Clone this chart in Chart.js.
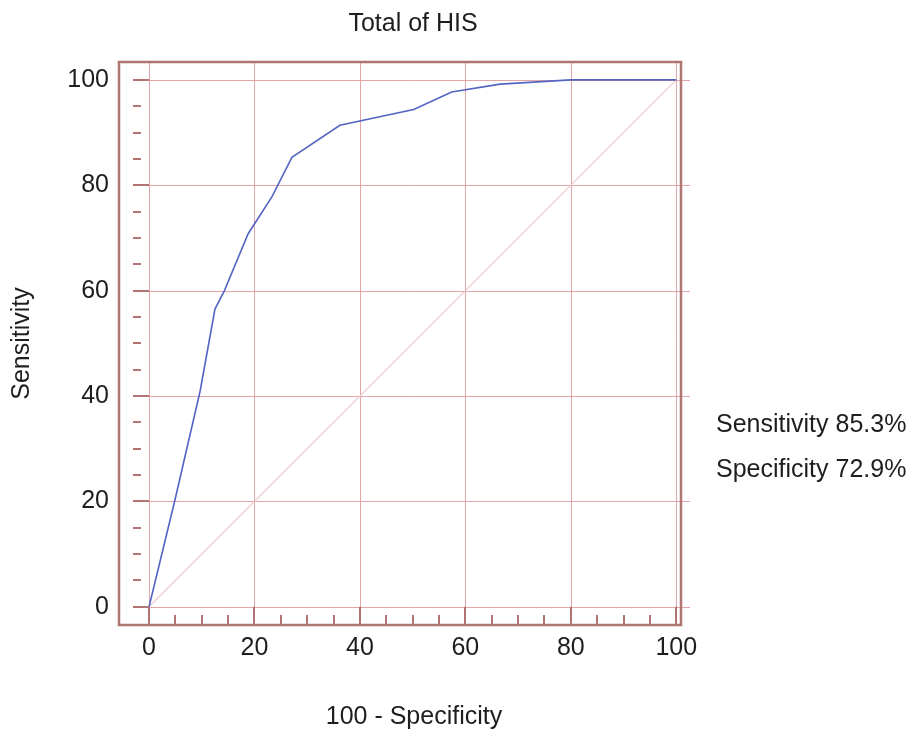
<!DOCTYPE html>
<html>
<head>
<meta charset="utf-8">
<title>Total of HIS</title>
<script src="https://cdn.jsdelivr.net/npm/chart.js@4/dist/chart.umd.min.js"></script>
<style>
  html, body { margin: 0; padding: 0; background: #fff; }
  #wrap { width: 919px; height: 731px; }
</style>
</head>
<body>
<div id="wrap"><canvas id="roc" width="919" height="731"></canvas></div>
<script>
// ROC curve (100 - specificity vs sensitivity)
var fpr = [0, 4.9, 9.7, 12.5, 14.3, 18.8, 23.3, 27.1, 36.2, 50.2, 57.4, 66.6, 80, 100];
var tpr = [0, 20.2, 41, 56.5, 60, 70.8, 77.8, 85.3, 91.4, 94.4, 97.7, 99.2, 100, 100];

var majorTicks = [0, 20, 40, 60, 80, 100];
var minorTicks = [5, 10, 15, 25, 30, 35, 45, 50, 55, 65, 70, 75, 85, 90, 95];
var chartTitle = 'Total of HIS';
var xTitle = '100 - Specificity';
var notes = ['Sensitivity 85.3%', 'Specificity 72.9%'];

var FONT = '"Liberation Sans", Arial, sans-serif';
var textColor = '#1e1e1e';
var frameColor = '#b07474';
var gridColor = '#e2a6a6';

var rocPoints = fpr.map(function(x, i) { return { x: x, y: tpr[i] }; });

// grid, tick marks and frame, drawn under the curves
var framePlugin = {
    id: 'frame',
    beforeDatasetsDraw: function(chart) {
        var ctx = chart.ctx, a = chart.chartArea;
        var xs = chart.scales.x, ys = chart.scales.y;
        ctx.save();
        ctx.lineWidth = 1;
        ctx.strokeStyle = gridColor;
        majorTicks.forEach(function(v) {
            var px = Math.round(xs.getPixelForValue(v)) + 0.5;
            ctx.beginPath(); ctx.moveTo(px, a.top); ctx.lineTo(px, a.bottom); ctx.stroke();
            var py = Math.round(ys.getPixelForValue(v)) + 0.5;
            ctx.beginPath(); ctx.moveTo(a.left + 14, py); ctx.lineTo(a.right + 9, py); ctx.stroke();
        });

        // tick marks
        ctx.strokeStyle = frameColor;
        ctx.lineWidth = 2;
        var x0 = xs.getPixelForValue(0), y0 = ys.getPixelForValue(0);
        majorTicks.forEach(function(v) {
            var py = Math.round(ys.getPixelForValue(v));
            ctx.beginPath(); ctx.moveTo(a.left + 14, py); ctx.lineTo(x0, py); ctx.stroke();
            var px = Math.round(xs.getPixelForValue(v));
            ctx.beginPath(); ctx.moveTo(px, a.bottom); ctx.lineTo(px, y0); ctx.stroke();
        });
        minorTicks.forEach(function(v) {
            var py = Math.round(ys.getPixelForValue(v));
            ctx.beginPath(); ctx.moveTo(a.left + 14, py); ctx.lineTo(a.left + 22, py); ctx.stroke();
            var px = Math.round(xs.getPixelForValue(v));
            ctx.beginPath(); ctx.moveTo(px, a.bottom - 1); ctx.lineTo(px, a.bottom - 10); ctx.stroke();
        });

        // frame
        ctx.lineWidth = 2.5;
        ctx.strokeRect(a.left, a.top, a.right - a.left, a.bottom - a.top);
        ctx.restore();
    },
    afterDraw: function(chart) {
        var ctx = chart.ctx;
        ctx.save();
        ctx.font = '25px ' + FONT;
        ctx.fillStyle = textColor;
        ctx.textBaseline = 'middle';
        // title and x title sit a bit right of the plot centre in the original
        ctx.textAlign = 'center';
        ctx.fillText(chartTitle, 413, 24);
        ctx.fillText(xTitle, 414, 717);
        ctx.textAlign = 'left';
        notes.forEach(function(t, i) {
            ctx.fillText(t, 716, 425 + i * 45);
        });
        ctx.restore();
    }
};

var chart = new Chart(document.getElementById('roc'), {
    type: 'scatter',
    data: {
        datasets: [{
            label: 'ROC',
            data: rocPoints,
            showLine: true,
            borderColor: '#5464c4',
            borderWidth: 1.6,
            pointRadius: 0,
            tension: 0
        }, {
            label: 'Reference',
            data: [{ x: 0, y: 0 }, { x: 100, y: 100 }],
            showLine: true,
            borderColor: '#eccaca',
            borderWidth: 1.2,
            pointRadius: 0
        }]
    },
    options: {
        responsive: false,
        animation: false,
        layout: { padding: { left: 0, right: 238, top: 62, bottom: 0 } },
        plugins: {
            legend: { display: false },
            tooltip: { enabled: false },
            title: { display: false }
        },
        scales: {
            x: {
                type: 'linear',
                min: -5.7,
                max: 100.9,
                afterBuildTicks: function(axis) { axis.ticks = majorTicks.map(function(v) { return { value: v }; }); },
                afterFit: function(axis) { axis.height = 106; },
                grid: { display: false, drawTicks: false },
                border: { display: false },
                ticks: {
                    color: textColor,
                    padding: 8,
                    maxRotation: 0,
                    font: { family: FONT, size: 25 }
                }
            },
            y: {
                type: 'linear',
                min: -3.47,
                max: 103.4,
                afterBuildTicks: function(axis) { axis.ticks = majorTicks.map(function(v) { return { value: v }; }); },
                afterFit: function(axis) { axis.width = 119; },
                grid: { display: false, drawTicks: false },
                border: { display: false },
                ticks: {
                    color: textColor,
                    padding: 10,
                    font: { family: FONT, size: 25 }
                },
                title: {
                    display: true,
                    text: 'Sensitivity',
                    color: textColor,
                    font: { family: FONT, size: 25 },
                    padding: { top: 7, bottom: 0 }
                }
            }
        }
    },
    plugins: [framePlugin]
});
</script>
</body>
</html>
